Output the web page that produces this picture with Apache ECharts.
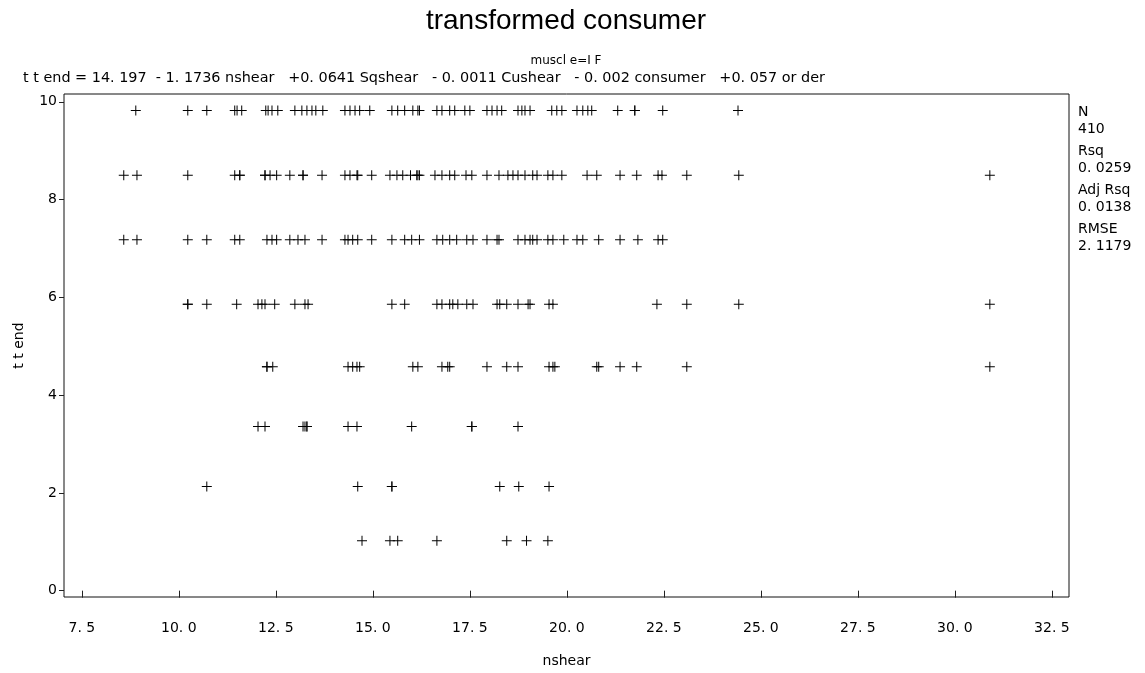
<!DOCTYPE html>
<html>
<head>
<meta charset="utf-8">
<script src="https://cdn.jsdelivr.net/npm/echarts@6/dist/echarts.min.js"></script>
<style>
  html, body { margin: 0; padding: 0; background: #fff; }
  #chart { width: 1145px; height: 673px; }
</style>
</head>
<body>
<div id="chart"></div>
<script>
// ttend levels (one per row of points) and the nshear values observed at each level
const ttendLevels = [9.82, 8.5, 7.18, 5.86, 4.58, 3.36, 2.13, 1.02];

const nshearRow1 = [8.89, 10.23, 10.72, 11.44, 11.5, 11.62, 12.24, 12.3, 12.4, 12.55, 12.99, 13.17, 13.3, 13.43, 13.53, 13.71,
  14.28, 14.41, 14.54, 14.66, 14.92, 15.49, 15.64, 15.82, 16.03, 16.16, 16.2, 16.65, 16.78, 16.98, 17.11, 17.37, 17.5,
  17.94, 18.07, 18.2, 18.32, 18.74, 18.84, 18.92, 19.05, 19.61, 19.74, 19.87, 20.26, 20.41, 20.54, 20.64, 21.31, 21.75,
  21.75, 22.47, 24.41];
const nshearRow2 = [8.58, 8.92, 10.23, 11.44, 11.57, 11.57, 12.22, 12.22, 12.35, 12.52, 12.86, 13.2, 13.2, 13.69, 14.28,
  14.41, 14.59, 14.61, 14.97, 15.44, 15.62, 15.77, 15.97, 16.13, 16.16, 16.2, 16.6, 16.78, 16.98, 17.11, 17.4, 17.55,
  17.94, 18.25, 18.48, 18.61, 18.74, 18.92, 19.12, 19.23, 19.51, 19.64, 19.87, 20.52, 20.77, 21.37, 21.8, 22.35, 22.45,
  23.09, 24.43, 30.9];
const nshearRow3 = [8.58, 8.92, 10.23, 10.72, 11.44, 11.57, 12.27, 12.4, 12.52, 12.86, 13.07, 13.25, 13.69, 14.28, 14.36,
  14.48, 14.61, 14.97, 15.49, 15.82, 16.0, 16.2, 16.65, 16.8, 16.98, 17.16, 17.42, 17.58, 17.94, 18.2, 18.25, 18.74,
  18.92, 19.05, 19.12, 19.23, 19.51, 19.64, 19.92, 20.26, 20.41, 20.82, 21.37, 21.83, 22.35, 22.47];
const nshearRow4 = [10.23, 10.23, 10.72, 11.49, 12.04, 12.14, 12.22, 12.47, 12.99, 13.25, 13.33, 15.49, 15.82, 16.65,
  16.78, 16.98, 17.06, 17.19, 17.42, 17.58, 18.2, 18.27, 18.45, 18.74, 19.0, 19.05, 19.54, 19.64, 22.32, 23.09, 24.43, 30.9];
const nshearRow5 = [12.27, 12.27, 12.42, 14.36, 14.48, 14.59, 14.66, 16.03, 16.16, 16.78, 16.93, 16.98, 17.94, 18.45,
  18.74, 19.54, 19.64, 19.69, 20.77, 20.82, 21.37, 21.8, 23.09, 30.9];
const nshearRow6 = [12.04, 12.22, 13.2, 13.25, 13.3, 13.3, 14.36, 14.59, 16.0, 17.55, 17.55, 18.74];
const nshearRow7 = [10.72, 14.61, 15.49, 15.49, 18.27, 18.76, 19.54];
const nshearRow8 = [14.72, 15.44, 15.64, 16.65, 18.45, 18.96, 19.51];

// axis ticks
const xTicks = [7.5, 10, 12.5, 15, 17.5, 20, 22.5, 25, 27.5, 30, 32.5];
const yTicks = [0, 2, 4, 6, 8, 10];

// fit statistics shown beside the plot
const statNames = ['N', 'Rsq', 'Adj Rsq', 'RMSE'];
const statValues = ['410', '0. 0259', '0. 0138', '2. 1179'];

const titleText = 'transformed consumer';
const subtitleText = 'muscl e=I F';
const equationText = 't t end = 14. 197  - 1. 1736 nshear   +0. 0641 Sqshear   - 0. 0011 Cushear   - 0. 002 consumer   +0. 057 or der';

const rows = [nshearRow1, nshearRow2, nshearRow3, nshearRow4, nshearRow5, nshearRow6, nshearRow7, nshearRow8];
const points = [];
rows.forEach((xs, i) => xs.forEach(x => points.push([x, ttendLevels[i]])));

// plus-shaped marker
const plusPath = 'path://M4.5,0H5.5V4.5H10V5.5H5.5V10H4.5V5.5H0V4.5H4.5Z';

const smallFont = 'DejaVu Sans';
const fmtTick = v => v.toFixed(1).replace('.', '. ');

const statGraphics = [];
const statTop = 112;
statNames.forEach((name, i) => {
  const y0 = statTop + i * 39;
  statGraphics.push({ type: 'text', x: 1078, y: y0,
    style: { text: name, font: '14px "' + smallFont + '"', fill: '#000', textAlign: 'left', textVerticalAlign: 'middle' } });
  statGraphics.push({ type: 'text', x: 1078, y: y0 + 17,
    style: { text: statValues[i], font: '14px "' + smallFont + '"', fill: '#000', textAlign: 'left', textVerticalAlign: 'middle' } });
});

const chart = echarts.init(document.getElementById('chart'), null, { renderer: 'canvas' });
chart.setOption({
  animation: false,
  backgroundColor: '#fff',
  textStyle: { fontFamily: smallFont },
  grid: { left: 64, right: 76, top: 94, bottom: 75, show: true, borderColor: '#111', borderWidth: 1, backgroundColor: 'transparent' },
  graphic: [
    { type: 'text', x: 566, y: 21,
      style: { text: titleText, font: '28px "Liberation Sans"', fill: '#000', textAlign: 'center', textVerticalAlign: 'middle' } },
    { type: 'text', x: 566, y: 61,
      style: { text: subtitleText, font: '12px "' + smallFont + '"', fill: '#000', textAlign: 'center', textVerticalAlign: 'middle' } },
    { type: 'text', x: 23, y: 78,
      style: { text: equationText, font: '14.4px "' + smallFont + '"', fill: '#000', textAlign: 'left', textVerticalAlign: 'middle' } }
  ].concat(statGraphics),
  xAxis: {
    type: 'value', min: 7.04, max: 32.94,
    name: 'nshear', nameLocation: 'middle', nameGap: 57,
    nameTextStyle: { fontSize: 14, color: '#000', fontFamily: smallFont },
    axisLine: { show: false },
    axisTick: { show: true, length: 7, customValues: xTicks, lineStyle: { color: '#222' } },
    axisLabel: { customValues: xTicks, margin: 24, fontSize: 14, color: '#000', fontFamily: smallFont, formatter: fmtTick },
    splitLine: { show: false }
  },
  yAxis: {
    type: 'value', min: -0.13, max: 10.16,
    name: 't t end', nameLocation: 'middle', nameGap: 38,
    nameTextStyle: { fontSize: 14, color: '#000', fontFamily: smallFont },
    axisLine: { show: false },
    axisTick: { show: true, length: 5, customValues: yTicks, lineStyle: { color: '#222' } },
    axisLabel: { customValues: yTicks, margin: 7, fontSize: 14, color: '#000', fontFamily: smallFont },
    splitLine: { show: false }
  },
  series: [{
    type: 'scatter',
    data: points,
    symbol: plusPath,
    symbolSize: 10,
    itemStyle: { color: '#000', opacity: 1 },
    silent: true
  }]
});
</script>
</body>
</html>
